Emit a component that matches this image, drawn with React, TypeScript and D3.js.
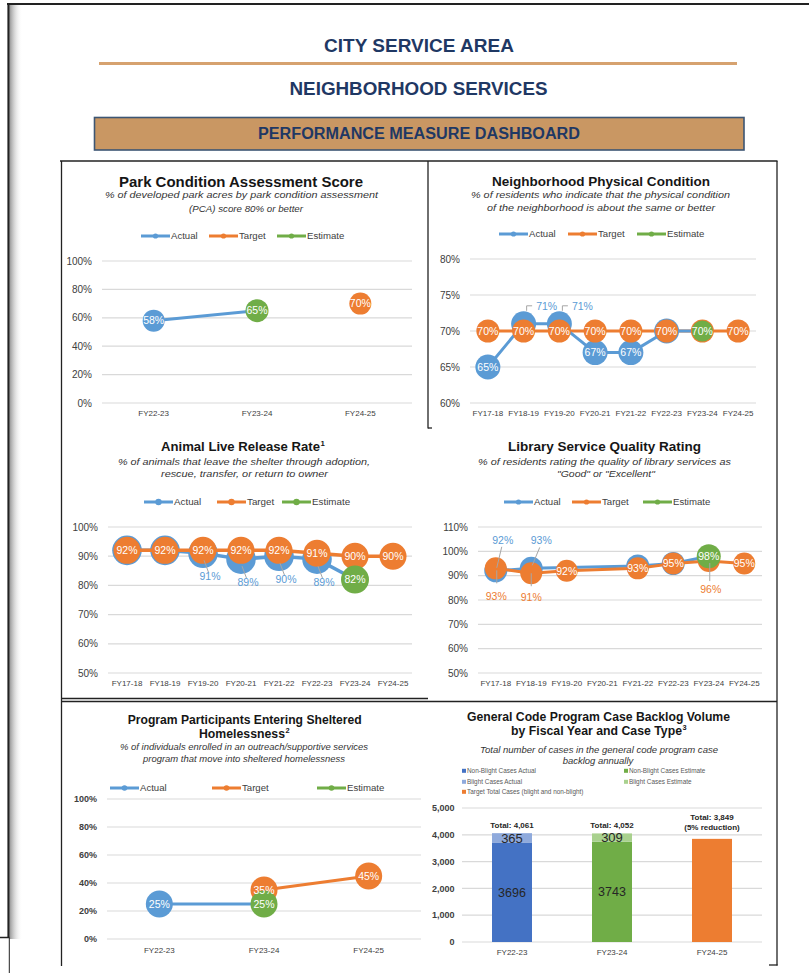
import React from "react";
import * as d3 from "d3";

const FONT = "'Liberation Sans', Arial, Helvetica, sans-serif";
const BLUE = "#5b9bd5";
const ORANGE = "#ed7d31";
const GREEN = "#70ad47";
const AXIS = "#404040";
const GRID = "#d9d9d9";
const LEADER = "#a6a6a6";
const NAVY = "#1f3864";
const FRAME = "#222222";

// ---------- data ----------
const legendSeries = ["Actual", "Target", "Estimate"];

const parkYears = ["FY22-23", "FY23-24", "FY24-25"];
const parkActual = [58, null, null];
const parkTarget = [null, null, 70];
const parkEstimate = [null, 65, null];
const parkTicks = [0, 20, 40, 60, 80, 100];

const trendYears = ["FY17-18", "FY18-19", "FY19-20", "FY20-21", "FY21-22", "FY22-23", "FY23-24", "FY24-25"];
const nbhdActual = [65, 71, 71, 67, 67, 70, null, null];
const nbhdTarget = [70, 70, 70, 70, 70, 70, 70, 70];
const nbhdEstimate = [null, null, null, null, null, null, 70, null];
const nbhdTicks = [60, 65, 70, 75, 80];

const animalActual = [92, 92, 91, 89, 90, 89, null, null];
const animalTarget = [92, 92, 92, 92, 92, 91, 90, 90];
const animalEstimate = [null, null, null, null, null, null, 82, null];
const animalTicks = [50, 60, 70, 80, 90, 100];

const libraryActual = [92, 93, null, null, 94, 95, null, null];
const libraryTarget = [93, 91, 92, null, 93, 95, 96, 95];
const libraryEstimate = [null, null, null, null, null, null, 98, null];
const libraryTicks = [50, 60, 70, 80, 90, 100, 110];

const shelterYears = ["FY22-23", "FY23-24", "FY24-25"];
const shelterActual = [25, null, null];
const shelterTarget = [null, 35, 45];
const shelterEstimate = [null, 25, null];
const shelterTicks = [0, 20, 40, 60, 80, 100];

const backlogYears = ["FY22-23", "FY23-24", "FY24-25"];
const nonBlightActual = [3696, null, null];
const blightActual = [365, null, null];
const nonBlightEstimate = [null, 3743, null];
const blightEstimate = [null, 309, null];
const targetTotal = [null, null, 3849];
const backlogTotals = ["Total: 4,061", "Total: 4,052", "Total: 3,849"];
const backlogNotes = ["", "", "(5% reduction)"];
const backlogTicks = [0, 1000, 2000, 3000, 4000, 5000];
const backlogLegend = [
  "Non-Blight Cases Actual",
  "Non-Blight Cases Estimate",
  "Blight Cases Actual",
  "Blight Cases Estimate",
  "Target Total Cases (blight and non-blight)",
];

// ---------- types ----------
type Val = number | null;
type Pt = { i: number; v: number; x: number; y: number };
type Callout = { text: [number, number]; path: [number, number][]; anchor?: string };
type TextLine = { text: string; x: number; y: number; w: number; size: number; sup?: string };

interface LineCfg {
  titles: TextLine[];
  subs: TextLine[];
  legendY: number;
  legendX: number[];
  legendSize: number;
  legendDot: number;
  grid: [number, number];
  yRange: [number, number];
  domain: [number, number];
  ticks: number[];
  tickRight: number;
  tickSize: number;
  tickBold?: boolean;
  xLabelY: number;
  categories: string[];
  actual: Val[];
  target: Val[];
  estimate: Val[];
  rA: number;
  rT: number;
  rE: number;
  lineW: number;
  labelSize: number;
  actualOnTop?: boolean;
  calloutA?: Record<number, Callout>;
  calloutT?: Record<number, Callout>;
  hideA?: number[];
  hideT?: number[];
}

function TextLines({ lines, weight, italic, fill }: { lines: TextLine[]; weight: string; italic?: boolean; fill: string }) {
  return (
    <g>
      {lines.map((l, k) => (
        <g key={k}>
          <text
            x={l.x}
            y={l.y}
            textAnchor="middle"
            fontSize={l.size}
            fontWeight={weight}
            fontStyle={italic ? "italic" : "normal"}
            fill={fill}
            textLength={l.w}
            lengthAdjust="spacingAndGlyphs"
          >
            {l.text}
          </text>
          {l.sup && (
            <text x={l.x + l.w / 2 + 0.6} y={l.y - l.size * 0.4} fontSize={l.size * 0.6} fontWeight={weight} fill={fill}>
              {l.sup}
            </text>
          )}
        </g>
      ))}
    </g>
  );
}

function Legend({ y, xs, size, dot }: { y: number; xs: number[]; size: number; dot: number }) {
  const colors = [BLUE, ORANGE, GREEN];
  return (
    <g>
      {legendSeries.map((name, k) => (
        <g key={name}>
          <line x1={xs[k]} x2={xs[k] + 29} y1={y} y2={y} stroke={colors[k]} strokeWidth={3} />
          <circle cx={xs[k] + 14.5} cy={y} r={dot} fill={colors[k]} />
          <text x={xs[k] + 30} y={y + size * 0.35} fontSize={size} fill={AXIS}>
            {name}
          </text>
        </g>
      ))}
    </g>
  );
}

function LineChart({ c }: { c: LineCfg }) {
  const x = d3.scalePoint<string>().domain(c.categories).range(c.grid).padding(0.5);
  const y = d3.scaleLinear().domain(c.domain).range(c.yRange);
  const toPts = (arr: Val[]): Pt[] =>
    arr.flatMap((v, i) => (v == null ? [] : [{ i, v, x: x(c.categories[i]) as number, y: y(v) }]));
  const A = toPts(c.actual);
  const T = toPts(c.target);
  const E = toPts(c.estimate);
  const line = d3
    .line<Pt>()
    .x((d) => d.x)
    .y((d) => d.y);
  const aPath = line([...A, ...E].sort((p, q) => p.i - q.i)) || "";
  const tPath = line(T) || "";

  const aLine = <path key="al" d={aPath} fill="none" stroke={BLUE} strokeWidth={c.lineW} strokeLinejoin="round" />;
  const tLine = <path key="tl" d={tPath} fill="none" stroke={ORANGE} strokeWidth={c.lineW} strokeLinejoin="round" />;
  const aCirc = (
    <g key="ac">
      {A.map((p) => (
        <circle key={p.i} cx={p.x} cy={p.y} r={c.rA} fill={BLUE} />
      ))}
    </g>
  );
  const tCirc = (
    <g key="tc">
      {T.map((p) => (
        <circle key={p.i} cx={p.x} cy={p.y} r={c.rT} fill={ORANGE} />
      ))}
    </g>
  );
  const eCirc = (
    <g key="ec">
      {E.map((p) => (
        <circle key={p.i} cx={p.x} cy={p.y} r={c.rE} fill={GREEN} />
      ))}
    </g>
  );
  const layers = c.actualOnTop ? [tLine, aLine, aCirc, tCirc, eCirc] : [aLine, aCirc, tLine, tCirc, eCirc];

  const calloutA = c.calloutA || {};
  const calloutT = c.calloutT || {};
  const hideA = c.hideA || [];
  const hideT = c.hideT || [];
  const inside: Pt[] = [
    ...A.filter((p) => !calloutA[p.i] && !hideA.includes(p.i)),
    ...T.filter((p) => !calloutT[p.i] && !hideT.includes(p.i)),
    ...E,
  ];
  const callouts: { p: Pt; co: Callout; color: string }[] = [
    ...A.filter((p) => calloutA[p.i]).map((p) => ({ p, co: calloutA[p.i], color: BLUE })),
    ...T.filter((p) => calloutT[p.i]).map((p) => ({ p, co: calloutT[p.i], color: ORANGE })),
  ];

  return (
    <g>
      <TextLines lines={c.titles} weight="bold" fill="#161616" />
      <TextLines lines={c.subs} weight="normal" italic fill="#333333" />
      <Legend y={c.legendY} xs={c.legendX} size={c.legendSize} dot={c.legendDot} />
      {c.ticks.map((t) => (
        <g key={t}>
          <line x1={c.grid[0]} x2={c.grid[1]} y1={y(t)} y2={y(t)} stroke={GRID} strokeWidth={1.2} />
          <text
            x={c.tickRight}
            y={y(t) + c.tickSize * 0.36}
            textAnchor="end"
            fontSize={c.tickSize}
            fontWeight={c.tickBold ? "bold" : "normal"}
            fill={AXIS}
          >
            {t + "%"}
          </text>
        </g>
      ))}
      {c.categories.map((cat) => (
        <text key={cat} x={x(cat)} y={c.xLabelY} textAnchor="middle" fontSize={8} fill={AXIS}>
          {cat}
        </text>
      ))}
      {layers}
      {callouts.map(({ p, co }, k) => (
        <polyline
          key={"l" + k}
          points={co.path.map(([dx, dy]) => `${p.x + dx},${p.y + dy}`).join(" ")}
          fill="none"
          stroke={LEADER}
          strokeWidth={1}
        />
      ))}
      {inside.map((p, k) => (
        <text key={"t" + k} x={p.x} y={p.y + c.labelSize * 0.36} textAnchor="middle" fontSize={c.labelSize} fill="#ffffff">
          {p.v + "%"}
        </text>
      ))}
      {callouts.map(({ p, co, color }, k) => (
        <text
          key={"c" + k}
          x={p.x + co.text[0]}
          y={p.y + co.text[1]}
          textAnchor={co.anchor || "middle"}
          fontSize={c.labelSize}
          fill={color}
        >
          {p.v + "%"}
        </text>
      ))}
    </g>
  );
}

function BacklogChart() {
  const grid: [number, number] = [462, 762];
  const x = d3.scaleBand<string>().domain(backlogYears).range(grid).paddingInner(0.6).paddingOuter(0.3);
  const y = d3.scaleLinear().domain([0, 5000]).range([942, 808]);
  const series = [
    { vals: nonBlightActual, color: "#4472c4", label: true, size: 12.5 },
    { vals: blightActual, color: "#8faadc", label: true, size: 13 },
    { vals: nonBlightEstimate, color: GREEN, label: true, size: 12.5 },
    { vals: blightEstimate, color: "#a9d18e", label: true, size: 13 },
    { vals: targetTotal, color: ORANGE, label: false, size: 12 },
  ];
  const legendColors = ["#4472c4", GREEN, "#8faadc", "#a9d18e", ORANGE];
  const legendPos: [number, number][] = [
    [462, 771],
    [624, 771],
    [462, 782],
    [624, 782],
    [462, 792],
  ];
  const stacks = backlogYears.map((cat, i) => {
    let base = 0;
    const segs: { y0: number; y1: number; color: string; v: number; label: boolean; size: number }[] = [];
    series.forEach((s) => {
      const v = s.vals[i];
      if (v != null) {
        segs.push({ y0: base, y1: base + v, color: s.color, v, label: s.label, size: s.size });
        base += v;
      }
    });
    return { cat, segs, total: base };
  });
  const fmt = d3.format(",");
  return (
    <g>
      <TextLines
        lines={[
          { text: "General Code Program Case Backlog Volume", x: 598.5, y: 720.5, w: 263, size: 12.3 },
          { text: "by Fiscal Year and Case Type", x: 596.5, y: 734.5, w: 171, size: 12.3, sup: "3" },
        ]}
        weight="bold"
        fill="#161616"
      />
      <TextLines
        lines={[
          { text: "Total number of cases in the general code program case", x: 599, y: 753, w: 238, size: 9.2 },
          { text: "backlog annually", x: 598, y: 763.5, w: 70.6, size: 9.2 },
        ]}
        weight="normal"
        italic
        fill="#333333"
      />
      {backlogLegend.map((name, k) => (
        <g key={name}>
          <rect x={legendPos[k][0]} y={legendPos[k][1] - 2.2} width={4} height={4} fill={legendColors[k]} />
          <text x={legendPos[k][0] + 5} y={legendPos[k][1] + 2.2} fontSize={6.4} fill="#595959">
            {name}
          </text>
        </g>
      ))}
      {backlogTicks.map((t) => (
        <g key={t}>
          <line x1={grid[0]} x2={grid[1]} y1={y(t)} y2={y(t)} stroke={GRID} strokeWidth={1.2} />
          <text x={454.5} y={y(t) + 3.2} textAnchor="end" fontSize={9} fontWeight="bold" fill={AXIS}>
            {fmt(t)}
          </text>
        </g>
      ))}
      {backlogYears.map((cat) => (
        <text key={cat} x={(x(cat) as number) + x.bandwidth() / 2} y={955} textAnchor="middle" fontSize={8} fill={AXIS}>
          {cat}
        </text>
      ))}
      {stacks.map((st, i) => {
        const bx = x(st.cat) as number;
        const bw = x.bandwidth();
        const cx = bx + bw / 2;
        const top = y(st.total);
        const note = backlogNotes[i];
        return (
          <g key={st.cat}>
            {st.segs.map((s, k) => (
              <rect key={k} x={bx} y={y(s.y1)} width={bw} height={y(s.y0) - y(s.y1)} fill={s.color} />
            ))}
            {st.segs
              .filter((s) => s.label)
              .map((s, k) => (
                <text
                  key={"v" + k}
                  x={cx}
                  y={(y(s.y0) + y(s.y1)) / 2 + s.size * 0.36}
                  textAnchor="middle"
                  fontSize={s.size}
                  fill="#262626"
                >
                  {s.v}
                </text>
              ))}
            {note ? (
              <g>
                <text x={cx} y={top - 18.5} textAnchor="middle" fontSize={8} fontWeight="bold" fill="#262626">
                  {backlogTotals[i]}
                </text>
                <text x={cx} y={top - 9} textAnchor="middle" fontSize={8} fontWeight="bold" fill="#262626">
                  {note}
                </text>
              </g>
            ) : (
              <text x={cx} y={top - 5.5} textAnchor="middle" fontSize={8} fontWeight="bold" fill="#262626">
                {backlogTotals[i]}
              </text>
            )}
          </g>
        );
      })}
    </g>
  );
}

const parkCfg: LineCfg = {
  titles: [{ text: "Park Condition Assessment Score", x: 241, y: 186.5, w: 244, size: 14.2 }],
  subs: [
    { text: "% of developed park acres by park condition assessment", x: 241.5, y: 198, w: 273, size: 9.8 },
    { text: "(PCA) score 80% or better", x: 246, y: 212, w: 114, size: 9.8 },
  ],
  legendY: 236,
  legendX: [141, 209, 277],
  legendSize: 9.6,
  legendDot: 2.6,
  grid: [102, 412],
  yRange: [403, 261],
  domain: [0, 100],
  ticks: parkTicks,
  tickRight: 92,
  tickSize: 10,
  xLabelY: 416,
  categories: parkYears,
  actual: parkActual,
  target: parkTarget,
  estimate: parkEstimate,
  rA: 11,
  rT: 11,
  rE: 11.5,
  lineW: 3,
  labelSize: 10.5,
};

const nbhdCfg: LineCfg = {
  titles: [{ text: "Neighborhood Physical Condition", x: 601, y: 185.5, w: 218, size: 13.5 }],
  subs: [
    { text: "% of residents who indicate that the physical condition", x: 600.5, y: 197.5, w: 259, size: 9.6 },
    { text: "of the neighborhood is about the same or better", x: 601, y: 211, w: 228, size: 9.6 },
  ],
  legendY: 234,
  legendX: [499, 568, 637],
  legendSize: 9.6,
  legendDot: 2.6,
  grid: [470, 756],
  yRange: [403, 259],
  domain: [60, 80],
  ticks: nbhdTicks,
  tickRight: 460,
  tickSize: 10,
  xLabelY: 416,
  categories: trendYears,
  actual: nbhdActual,
  target: nbhdTarget,
  estimate: nbhdEstimate,
  rA: 12.5,
  rT: 11.5,
  rE: 10.5,
  lineW: 3,
  labelSize: 10.5,
  actualOnTop: true,
  calloutA: {
    1: { text: [12.5, -14.3], path: [[3, -13], [3, -18], [8.5, -18]], anchor: "start" },
    2: { text: [12.5, -14.3], path: [[3, -13], [3, -18], [8.5, -18]], anchor: "start" },
  },
  hideA: [5],
  hideT: [6],
};

const animalCallout: Callout = { text: [7, 26.5], path: [[1, 7], [5.5, 19]] };
const animalCfg: LineCfg = {
  titles: [{ text: "Animal Live Release Rate", x: 240.5, y: 451, w: 159, size: 13, sup: "1" }],
  subs: [
    { text: "% of animals that leave the shelter through adoption,", x: 244, y: 465, w: 252, size: 9.6 },
    { text: "rescue, transfer, or return to owner", x: 244.5, y: 476.5, w: 167, size: 9.6 },
  ],
  legendY: 502,
  legendX: [144, 217, 282],
  legendSize: 9.8,
  legendDot: 3.2,
  grid: [108, 412],
  yRange: [673, 527],
  domain: [50, 100],
  ticks: animalTicks,
  tickRight: 98,
  tickSize: 10,
  xLabelY: 686,
  categories: trendYears,
  actual: animalActual,
  target: animalTarget,
  estimate: animalEstimate,
  rA: 14.8,
  rT: 13.5,
  rE: 14,
  lineW: 3.5,
  labelSize: 10.5,
  calloutA: { 2: animalCallout, 3: animalCallout, 4: animalCallout, 5: animalCallout },
  hideA: [0, 1],
};

const libraryCfg: LineCfg = {
  titles: [{ text: "Library Service Quality Rating", x: 604.5, y: 451, w: 193, size: 13.5 }],
  subs: [
    { text: "% of residents rating the quality of library services as", x: 604.5, y: 465, w: 253, size: 9.3 },
    { text: '"Good" or "Excellent"', x: 606, y: 476.5, w: 98, size: 9.3 },
  ],
  legendY: 502,
  legendX: [504, 572, 643],
  legendSize: 9.6,
  legendDot: 2.6,
  grid: [478, 762],
  yRange: [673, 527],
  domain: [50, 110],
  ticks: libraryTicks,
  tickRight: 468,
  tickSize: 10,
  xLabelY: 686,
  categories: trendYears,
  actual: libraryActual,
  target: libraryTarget,
  estimate: libraryEstimate,
  rA: 11.5,
  rT: 11,
  rE: 12,
  lineW: 3,
  labelSize: 10.5,
  calloutA: {
    0: { text: [7, -27], path: [[6, -24], [1, -3]] },
    1: { text: [10, -24], path: [[8.5, -21], [1, -3]] },
  },
  calloutT: {
    0: { text: [0.5, 32], path: [[1, 2], [1, 15]] },
    1: { text: [0, 27.5], path: [[0, 0], [0, 13]] },
    6: { text: [2, 32], path: [[1, 2], [1, 20]] },
  },
  hideA: [4, 5],
};

const shelterCfg: LineCfg = {
  titles: [
    { text: "Program Participants Entering Sheltered", x: 244.7, y: 724, w: 234, size: 12.3 },
    { text: "Homelessness", x: 242, y: 737.5, w: 86, size: 12.3, sup: "2" },
  ],
  subs: [
    { text: "% of individuals enrolled in an outreach/supportive services", x: 244, y: 750, w: 248, size: 8.6 },
    { text: "program that move into sheltered homelessness", x: 244, y: 761.5, w: 202, size: 8.6 },
  ],
  legendY: 788,
  legendX: [110, 212, 317],
  legendSize: 9.6,
  legendDot: 2.8,
  grid: [107, 421],
  yRange: [939, 799],
  domain: [0, 100],
  ticks: shelterTicks,
  tickRight: 97,
  tickSize: 9,
  tickBold: true,
  xLabelY: 953,
  categories: shelterYears,
  actual: shelterActual,
  target: shelterTarget,
  estimate: shelterEstimate,
  rA: 13.5,
  rT: 13.5,
  rE: 13.5,
  lineW: 3,
  labelSize: 10.5,
};

function Frame() {
  return (
    <g>
      <defs>
        <linearGradient id="shadowL" x1="0" x2="1" y1="0" y2="0">
          <stop offset="0%" stopColor="#8a8a8a" stopOpacity={0.9} />
          <stop offset="100%" stopColor="#ffffff" stopOpacity={0} />
        </linearGradient>
      </defs>
      <rect x={9.5} y={5} width={13} height={934} fill="url(#shadowL)" />
      <line x1={7} x2={809} y1={4} y2={4} stroke={FRAME} strokeWidth={2} />
      <line x1={8.5} x2={8.5} y1={3} y2={937.5} stroke={FRAME} strokeWidth={2.2} />
      <line x1={0} x2={9.5} y1={937.5} y2={937.5} stroke={FRAME} strokeWidth={1.5} />
      <line x1={9.3} x2={9.3} y1={937.5} y2={973} stroke={FRAME} strokeWidth={1} />

      {/* panel grid */}
      <line x1={60} x2={777.5} y1={161} y2={161} stroke={FRAME} strokeWidth={1.3} />
      <line x1={61.5} x2={61.5} y1={161} y2={966} stroke={FRAME} strokeWidth={1.3} />
      <line x1={777} x2={777} y1={161} y2={965.5} stroke={FRAME} strokeWidth={1.3} />
      <line x1={769} x2={777.6} y1={965} y2={965} stroke={FRAME} strokeWidth={1.3} />
      <line x1={428} x2={428} y1={161} y2={428.5} stroke={FRAME} strokeWidth={1.3} />
      <line x1={428} x2={432} y1={428} y2={428} stroke={FRAME} strokeWidth={1.3} />
      <line x1={61.5} x2={428} y1={698.5} y2={698.5} stroke={FRAME} strokeWidth={1.3} />
      <line x1={61.5} x2={777} y1={701.5} y2={701.5} stroke={FRAME} strokeWidth={1.3} />
    </g>
  );
}

function Header() {
  return (
    <g>
      <text x={419} y={51.5} textAnchor="middle" fontSize={18.5} fontWeight="bold" fill={NAVY} textLength={190} lengthAdjust="spacingAndGlyphs">
        CITY SERVICE AREA
      </text>
      <line x1={99} x2={737} y1={63.5} y2={63.5} stroke="#d6a26f" strokeWidth={3} />
      <text x={418.5} y={95} textAnchor="middle" fontSize={18.5} fontWeight="bold" fill={NAVY} textLength={258} lengthAdjust="spacingAndGlyphs">
        NEIGHBORHOOD SERVICES
      </text>
      <rect x={94.5} y={117.5} width={649.5} height={32.5} fill="#c99763" stroke="#3d5673" strokeWidth={1.6} />
      <text x={419} y={139} textAnchor="middle" fontSize={16} fontWeight="bold" fill={NAVY} textLength={322} lengthAdjust="spacingAndGlyphs">
        PERFORMANCE MEASURE DASHBOARD
      </text>
    </g>
  );
}

export default function App() {
  return (
    <svg
      width={809}
      height={973}
      viewBox="0 0 809 973"
      style={{ position: "absolute", left: 0, top: 0, display: "block", background: "#ffffff" }}
      fontFamily={FONT}
    >
      <rect x={0} y={0} width={809} height={973} fill="#ffffff" />
      <Frame />
      <Header />
      <LineChart c={parkCfg} />
      <LineChart c={nbhdCfg} />
      <LineChart c={animalCfg} />
      <LineChart c={libraryCfg} />
      <LineChart c={shelterCfg} />
      <BacklogChart />
    </svg>
  );
}
